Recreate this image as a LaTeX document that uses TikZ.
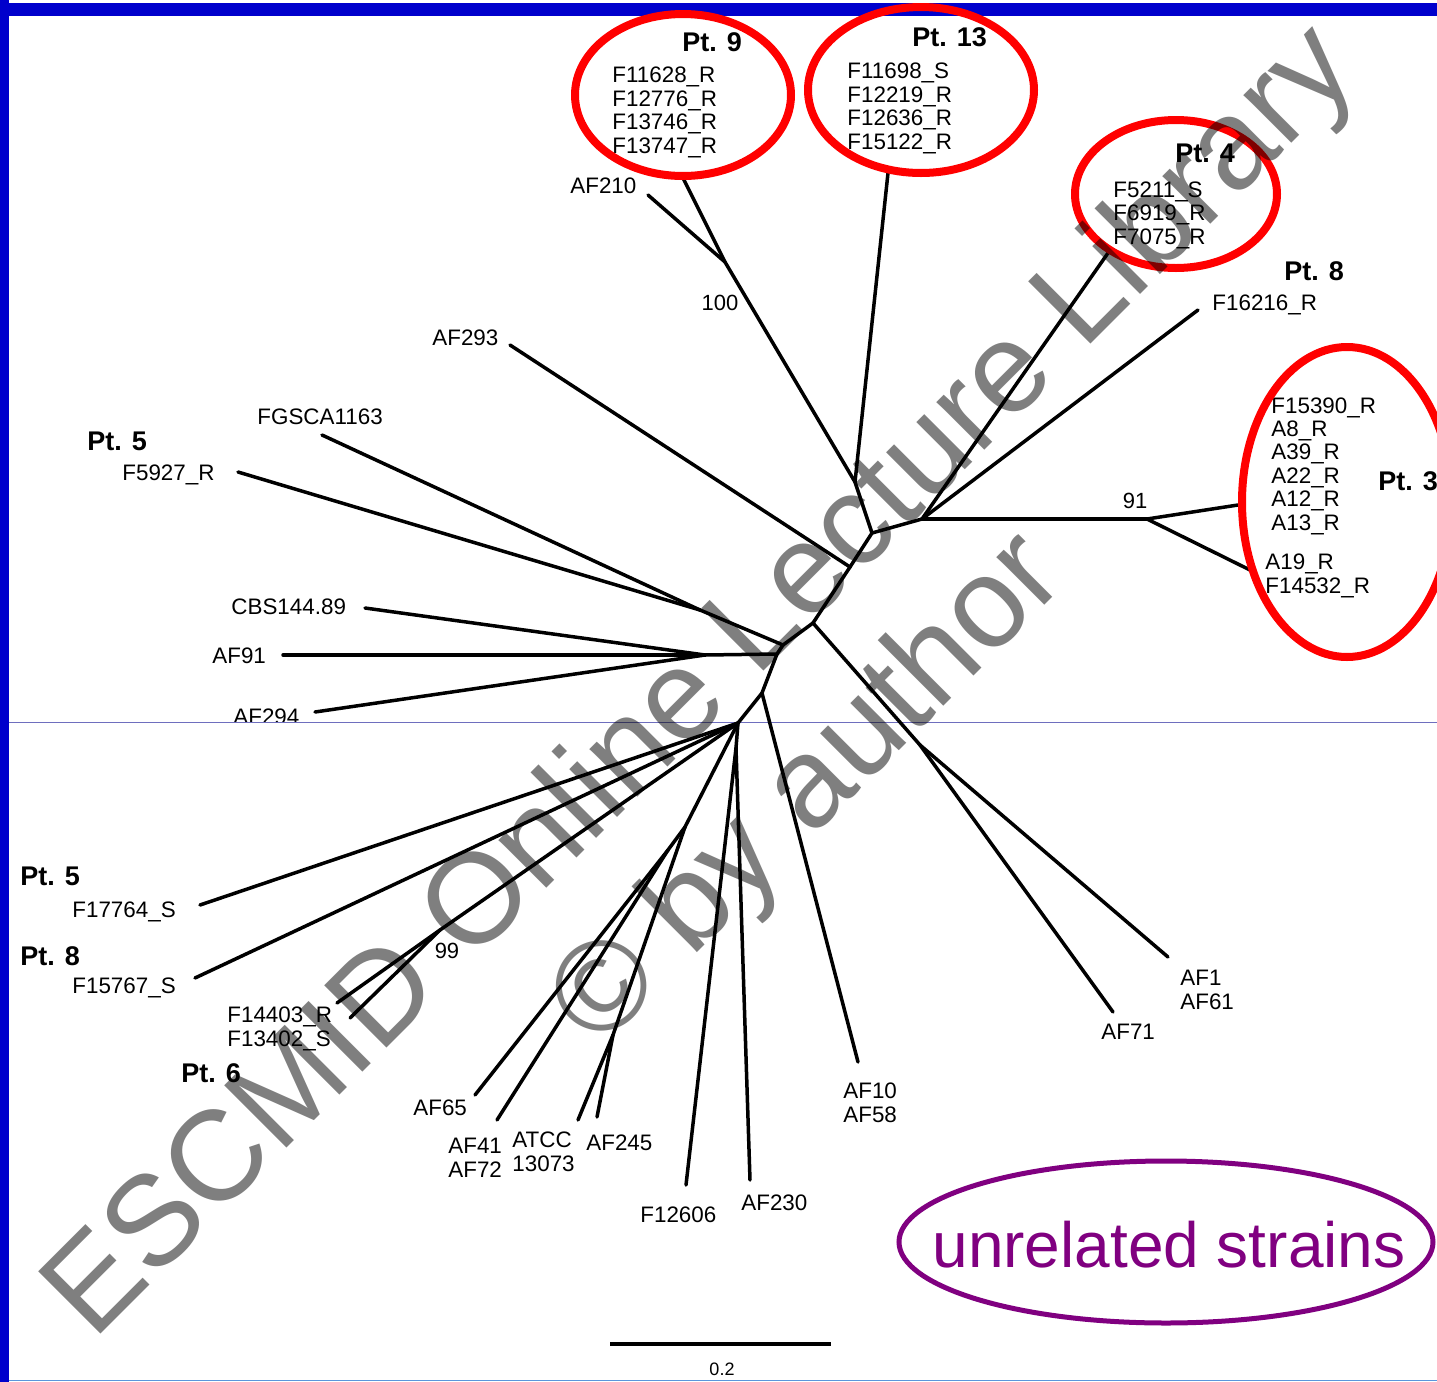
\documentclass[tikz,border=0pt]{standalone}
\usepackage{fontspec}
\setmainfont{Liberation Sans}
\definecolor{slideblue}{RGB}{0,0,204}
\definecolor{strainpurple}{RGB}{128,0,128}
\definecolor{seamblue}{RGB}{110,110,190}
\definecolor{edgeblue}{RGB}{90,150,220}
\tikzset{
  branch/.style={line width=1.75pt, line cap=round},
  leaf/.style={anchor=base west, inner sep=0pt, align=left, font=\fontsize{11.2}{11.7}\selectfont},
  patient/.style={anchor=base west, inner sep=0pt, font=\bfseries\fontsize{13.5}{14}\selectfont},
  boot/.style={anchor=base, inner sep=0pt, font=\fontsize{11}{12}\selectfont},
  group/.style={red, line width=4pt},
  wmark/.style={anchor=base, rotate=45, inner sep=0pt, text=black, text opacity=0.5,
    font=\fontsize{64}{70}\selectfont},
}
\begin{document}
\begin{tikzpicture}[x=0.5pt, y=-0.5pt]
\useasboundingbox (0,0) rectangle (1437,1382);
\clip (0,0) rectangle (1437,1382);
\fill[white] (0,0) rectangle (1437,1382);
\fill[slideblue] (0,3) rectangle (1437,16);
\fill[slideblue] (0,0) rectangle (9,1382);
\draw[seamblue, line width=0.5pt] (9,722.5) -- (1437,722.5);
\draw[edgeblue, line width=0.5pt] (9,1380.5) -- (1437,1380.5);

% inner nodes of the tree
\coordinate (n100) at (725,262);
\coordinate (n913) at (855,482);
\coordinate (nA) at (872,533);
\coordinate (nB) at (922,519);
\coordinate (n91) at (1147,519);
\coordinate (nC) at (850,567);
\coordinate (nD) at (813,623);
\coordinate (n71) at (920,745);
\coordinate (nE) at (783,645);
\coordinate (nFG) at (700,610);
\coordinate (nF) at (777,654);
\coordinate (nAF91) at (705,655);
\coordinate (nG) at (762,693);
\coordinate (nH) at (738,723);
\coordinate (n99) at (440,930);
\coordinate (nV) at (736,748);
\coordinate (nI) at (685,827);
\coordinate (nJ) at (613,1035);
\coordinate (nK) at (668,850);

% tips
\coordinate (eAF210) at (648,195);
\coordinate (ePt9) at (683,178);
\coordinate (ePt13) at (888,173);
\coordinate (ePt4) at (1108,253);
\coordinate (ePt8) at (1198,310);
\coordinate (eA13) at (1238,505);
\coordinate (eA19) at (1250,570);
\coordinate (eAF293) at (510,345);
\coordinate (eAF71) at (1113,1012);
\coordinate (eAF1) at (1168,957);
\coordinate (eFGSCA) at (322,435);
\coordinate (eF5927) at (238,472);
\coordinate (eAF91) at (283,655);
\coordinate (eCBS) at (365,608);
\coordinate (eAF294) at (315,712);
\coordinate (eAF10) at (858,1062);
\coordinate (eF17764) at (200,905);
\coordinate (eF15767) at (195,978);
\coordinate (eF14403) at (337,1003);
\coordinate (eF13402) at (350,1018);
\coordinate (eAF230) at (750,1180);
\coordinate (eF12606) at (686,1185);
\coordinate (eATCC) at (578,1120);
\coordinate (eAF245) at (597,1117);
\coordinate (eAF65) at (475,1095);
\coordinate (eAF41) at (497,1120);

\foreach \a/\b in {n100/eAF210, n100/ePt9, n100/n913, n913/ePt13, n913/nA,
  nA/nB, nB/ePt4, nB/ePt8, nB/n91, n91/eA13, n91/eA19,
  nA/nC, nC/eAF293, nC/nD, nD/n71, n71/eAF71, n71/eAF1,
  nD/nE, nE/nFG, nFG/eFGSCA, nFG/eF5927,
  nE/nF, nF/nAF91, nAF91/eAF91, nAF91/eCBS, nAF91/eAF294,
  nF/nG, nG/eAF10, nG/nH,
  nH/eF17764, nH/eF15767, nH/n99, n99/eF14403, n99/eF13402,
  nH/nV, nV/eAF230, nV/eF12606,
  nH/nI, nI/nJ, nJ/eATCC, nJ/eAF245, nI/nK, nK/eAF65, nK/eAF41}
  \draw[branch] (\a) -- (\b);

% labels, upper half (multi-line nodes sit on their last line)
\node[patient] (pt9) at (682,51) {Pt. 9};
\node[leaf] (g9) at (612,153) {F11628\_R\\F12776\_R\\F13746\_R\\F13747\_R};
\node[leaf] (af210) at (570,193) {AF210};
\node[boot] (b100) at (720,310) {100};
\node[patient] (pt13) at (912,46) {Pt. 13};
\node[leaf] (g13) at (847,149) {F11698\_S\\F12219\_R\\F12636\_R\\F15122\_R};
\node[patient] (pt4) at (1175,162) {Pt. 4};
\node[leaf] (g4) at (1113,244) {F5211\_S\\F6919\_R\\F7075\_R};
\node[patient] (pt8a) at (1284,280) {Pt. 8};
\node[leaf] (f16216) at (1212,310) {F16216\_R};
\node[leaf] (g3a) at (1271,530) {F15390\_R\\A8\_R\\A39\_R\\A22\_R\\A12\_R\\A13\_R};
\node[leaf] (g3b) at (1265,593) {A19\_R\\F14532\_R};
\node[patient] (pt3) at (1378,490) {Pt. 3};
\node[boot] (b91) at (1135,508) {91};
\node[leaf] (af293) at (432,345) {AF293};
\node[leaf] (fgsca) at (257,424) {FGSCA1163};
\node[patient] (pt5a) at (87,450) {Pt. 5};
\node[leaf] (f5927) at (122,480) {F5927\_R};
\node[leaf] (cbs) at (231,614) {CBS144.89};
\node[leaf] (af91) at (212,663) {AF91};
\begin{scope}
\clip (0,0) rectangle (1437,721);
\node[leaf] (af294) at (233,724) {AF294};
\end{scope}

% labels, lower half
\node[patient] (pt5b) at (20,885) {Pt. 5};
\node[leaf] (f17764) at (72,917) {F17764\_S};
\node[patient] (pt8b) at (20,965) {Pt. 8};
\node[leaf] (f15767) at (72,993) {F15767\_S};
\node[boot] (b99) at (447,958) {99};
\node[leaf] (g6) at (227,1046) {F14403\_R\\F13402\_S};
\node[patient] (pt6) at (181,1082) {Pt. 6};
\node[leaf] (af65) at (413,1115) {AF65};
\node[leaf] (af41) at (448,1177) {AF41\\AF72};
\node[leaf] (atcc) at (512,1171) {ATCC\\13073};
\node[leaf] (af245) at (586,1150) {AF245};
\node[leaf] (f12606) at (640,1222) {F12606};
\node[leaf] (af230) at (741,1210) {AF230};
\node[leaf] (af10) at (843,1122) {AF10\\AF58};
\node[leaf] (af71) at (1101,1039) {AF71};
\node[leaf] (af1) at (1180,1009) {AF1\\AF61};

% scale bar
\coordinate (sbL) at (610,1344);
\coordinate (sbR) at (831,1344);
\draw[line width=2pt] (sbL) -- (sbR);
\node[boot, font=\fontsize{9}{10}\selectfont] (sblab) at (722,1375) {0.2};

% patient groups
\draw[group] (683,95) ellipse [x radius=108, y radius=81];
\draw[group] (921,90) ellipse [x radius=113, y radius=83];
\draw[group] (1176,194) ellipse [x radius=101, y radius=74];
\draw[group] (1347,502) ellipse [x radius=105, y radius=155];

\node[anchor=base, inner sep=0pt, text=strainpurple, font=\fontsize{32}{34}\selectfont]
  (unrel) at (1169,1267) {unrelated strains};
\draw[strainpurple, line width=2.5pt] (1166,1242) ellipse [x radius=267, y radius=81];

% watermark
\node[wmark] (wm1) at (727,708) {ESCMID Online Lecture Library};
\node[wmark] (wm2) at (834,816) {\textcopyright{} by author};
\end{tikzpicture}
\end{document}
